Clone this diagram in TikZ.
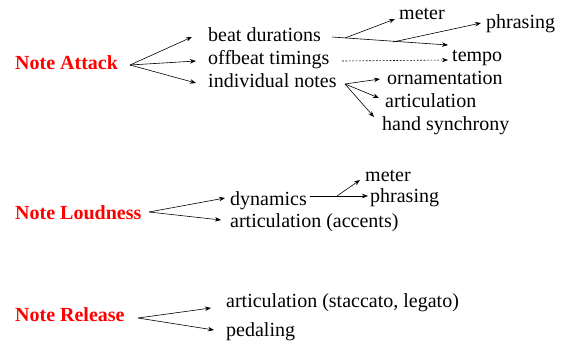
\documentclass[tikz,border=0pt]{standalone}
\usepackage{fontspec}
\setmainfont{Liberation Serif}
\usetikzlibrary{arrows.meta}
\definecolor{hdred}{RGB}{255,0,0}
\begin{document}
\begin{tikzpicture}[x=1pt,y=-1pt,
  lbl/.style={anchor=base west,inner sep=0pt,font=\fontsize{20}{24}\selectfont},
  head/.style={lbl,text=hdred,font=\fontsize{20}{24}\selectfont\bfseries},
  conn/.style={line width=0.6pt,-{Stealth[length=6pt,width=4.5pt]}},
  dots/.style={conn,dash pattern=on 1.8pt off 1.6pt}]
\useasboundingbox (0,0) rectangle (566,343);
% --- Note Attack
\node[head] (na) at (15,69) {Note Attack};
\node[lbl] (bd) at (208,41) {beat durations};
\node[lbl] (ot) at (208,64) {offbeat timings};
\node[lbl] (in) at (208,87) {individual notes};
\node[lbl] (me1) at (399,19) {meter};
\node[lbl] (ph1) at (486,28) {phrasing};
\node[lbl] (te) at (452,61) {tempo};
\node[lbl] (or) at (387,84) {ornamentation};
\node[lbl] (ar1) at (385,107) {articulation};
\node[lbl] (hs) at (382,130) {hand synchrony};
\coordinate (naf) at (130,65);
\coordinate (bdt) at (192,37);
\coordinate (ott) at (196,61);
\coordinate (int) at (196,83);
\draw[conn] (naf) -- (bdt);
\draw[conn] (naf) -- (ott);
\draw[conn] (naf) -- (int);
\coordinate (bds) at (332,37);
\coordinate (bdm) at (345,38);
\coordinate (bdp) at (393,42);
\coordinate (met) at (395,19);
\coordinate (tet) at (448,45);
\coordinate (pht) at (481,23);
\draw[conn] (bds) -- (tet);
\draw[conn] (bdm) -- (met);
\draw[conn] (bdp) -- (pht);
\coordinate (ots) at (342,61);
\coordinate (ott2) at (448,60);
\draw[dots] (ots) -- (ott2);
\coordinate (inf) at (345,84);
\coordinate (ort) at (380,79);
\coordinate (art) at (379,98);
\coordinate (hst) at (374,117);
\draw[conn] (inf) -- (ort);
\draw[conn] (inf) -- (art);
\draw[conn] (inf) -- (hst);
% --- Note Loudness
\node[head] (nl) at (15,219) {Note Loudness};
\node[lbl] (dy) at (230,205) {dynamics};
\node[lbl] (aa) at (230,227) {articulation (accents)};
\node[lbl] (me2) at (365,181) {meter};
\node[lbl] (ph2) at (370,202) {phrasing};
\coordinate (nlf) at (149,212);
\coordinate (dyt) at (225,198);
\coordinate (aat) at (221,220);
\draw[conn] (nlf) -- (dyt);
\draw[conn] (nlf) -- (aat);
\coordinate (dys) at (310,196);
\coordinate (dyb) at (337,196);
\coordinate (pht2) at (368,196);
\coordinate (met2) at (360,180);
\draw[conn] (dys) -- (pht2);
\draw[conn] (dyb) -- (met2);
% --- Note Release
\node[head] (nr) at (15,321) {Note Release};
\node[lbl] (as) at (226,307) {articulation (staccato, legato)};
\node[lbl] (pe) at (226,336) {pedaling};
\coordinate (nrf) at (138,318);
\coordinate (ast) at (211,308);
\coordinate (pet) at (214,330);
\draw[conn] (nrf) -- (ast);
\draw[conn] (nrf) -- (pet);
\end{tikzpicture}
\end{document}
